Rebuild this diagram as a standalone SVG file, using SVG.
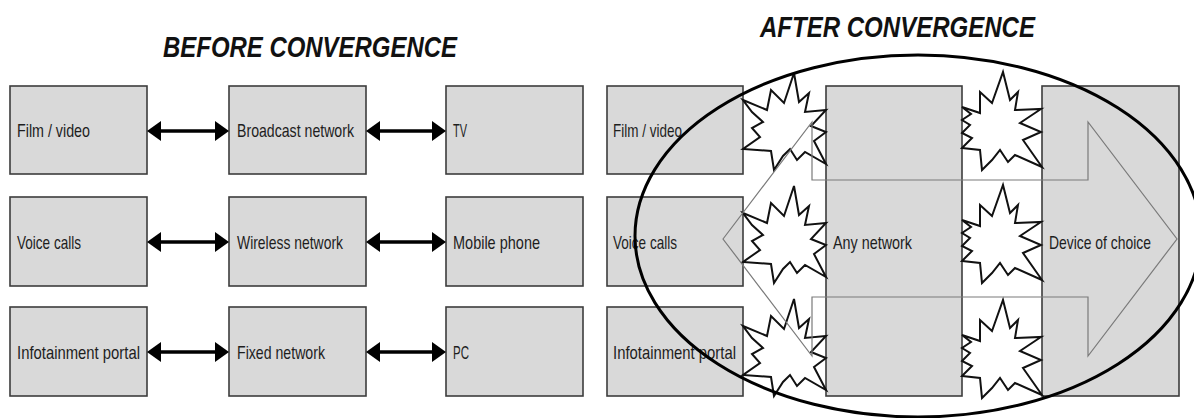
<svg xmlns="http://www.w3.org/2000/svg" width="1194" height="418" viewBox="0 0 1194 418">
  <style>
    .box { fill: #d9d9d9; stroke: #3c3c3c; stroke-width: 1.6; }
    .label { font-family: "Liberation Sans", Arial, sans-serif; font-size: 19px; fill: #1e1e1e; }
    .title { font-family: "Liberation Sans", Arial, sans-serif; font-size: 30px; font-weight: bold; font-style: italic; fill: #111; }
    .link { stroke: #000; stroke-width: 3.6; fill: none; }
    .burst { fill: #fff; stroke: #111; stroke-width: 2; stroke-linejoin: miter; }
    .flow { fill: none; stroke: #7a7a7a; stroke-width: 1.2; }
    .boundary { fill: none; stroke: #000; stroke-width: 3; }
  </style>
  <defs>
    <marker id="head" viewBox="0 0 14 20" refX="11" refY="10" markerWidth="14" markerHeight="20" markerUnits="userSpaceOnUse" orient="auto-start-reverse">
      <path d="M0,0 L14,10 L0,20 Z" fill="#000"/>
    </marker>
    <!-- starburst between a service box and the network column -->
    <polygon id="burstA" class="burst" points="0,40 24,50 28,30 41,43 51,13 56,42 66,33 62,52 83,50 68,66 83,72 71,81 83,104 62,92 54,100 47,89 40,96 31,110 28,91 0,89 17,77 9,68 20,62 9,52"/>
    <!-- starburst between the network column and the device column -->
    <polygon id="burstB" class="burst" points="0,47 18,53 18,32 30,43 41,12 48,40 56,32 53,50 79,49 58,63 79,72 61,80 80,107 53,95 46,102 38,90 30,100 20,110 18,90 0,88 10,78 0,73 8,65 0,60 9,54"/>
  </defs>

  <rect width="1194" height="418" fill="#fff"/>

  <!-- headings -->
  <text class="title" x="163" y="57" textLength="294" lengthAdjust="spacingAndGlyphs">BEFORE CONVERGENCE</text>
  <text class="title" x="760" y="37" textLength="275" lengthAdjust="spacingAndGlyphs">AFTER CONVERGENCE</text>

  <!-- separate value chains -->
  <g id="before-film">
    <rect class="box" x="10" y="86" width="137" height="88"/>
    <text class="label" x="17" y="137" textLength="73" lengthAdjust="spacingAndGlyphs">Film / video</text>
  </g>
  <g id="before-broadcast">
    <rect class="box" x="229" y="86" width="137" height="88"/>
    <text class="label" x="237" y="137" textLength="117" lengthAdjust="spacingAndGlyphs">Broadcast network</text>
  </g>
  <g id="before-tv">
    <rect class="box" x="446" y="86" width="137" height="88"/>
    <text class="label" x="453" y="137" textLength="14" lengthAdjust="spacingAndGlyphs">TV</text>
  </g>
  <g id="before-voice">
    <rect class="box" x="10" y="197" width="137" height="89"/>
    <text class="label" x="17" y="248.5" textLength="64" lengthAdjust="spacingAndGlyphs">Voice calls</text>
  </g>
  <g id="before-wireless">
    <rect class="box" x="229" y="197" width="137" height="89"/>
    <text class="label" x="237" y="248.5" textLength="106" lengthAdjust="spacingAndGlyphs">Wireless network</text>
  </g>
  <g id="before-mobile">
    <rect class="box" x="446" y="197" width="137" height="89"/>
    <text class="label" x="453" y="248.5" textLength="87" lengthAdjust="spacingAndGlyphs">Mobile phone</text>
  </g>
  <g id="before-infotainment">
    <rect class="box" x="10" y="307" width="137" height="89"/>
    <text class="label" x="17" y="358.5" textLength="123" lengthAdjust="spacingAndGlyphs">Infotainment portal</text>
  </g>
  <g id="before-fixed">
    <rect class="box" x="229" y="307" width="137" height="89"/>
    <text class="label" x="237" y="358.5" textLength="88" lengthAdjust="spacingAndGlyphs">Fixed network</text>
  </g>
  <g id="before-pc">
    <rect class="box" x="446" y="307" width="137" height="89"/>
    <text class="label" x="453" y="358.5" textLength="16" lengthAdjust="spacingAndGlyphs">PC</text>
  </g>

  <!-- converged layout -->
  <g id="after-film">
    <rect class="box" x="607" y="86" width="136" height="88"/>
    <text class="label" x="613" y="137" textLength="69" lengthAdjust="spacingAndGlyphs">Film / video</text>
  </g>
  <g id="after-voice">
    <rect class="box" x="607" y="197" width="136" height="89"/>
    <text class="label" x="613" y="248.5" textLength="64" lengthAdjust="spacingAndGlyphs">Voice calls</text>
  </g>
  <g id="after-infotainment">
    <rect class="box" x="607" y="307" width="136" height="89"/>
    <text class="label" x="613" y="358.5" textLength="123" lengthAdjust="spacingAndGlyphs">Infotainment portal</text>
  </g>
  <g id="any-network">
    <rect class="box" x="826" y="86" width="136" height="310"/>
    <text class="label" x="833" y="248.5" textLength="79" lengthAdjust="spacingAndGlyphs">Any network</text>
  </g>
  <g id="device-of-choice">
    <rect class="box" x="1042" y="86" width="137" height="310"/>
    <text class="label" x="1049" y="248.5" textLength="102" lengthAdjust="spacingAndGlyphs">Device of choice</text>
  </g>

  <!-- starbursts at each hand-off -->
  <g id="bursts">
    <use href="#burstA" x="743" y="60"/>
    <use href="#burstA" x="743" y="173"/>
    <use href="#burstA" x="743" y="286"/>
    <use href="#burstB" x="962" y="60"/>
    <use href="#burstB" x="962" y="173"/>
    <use href="#burstB" x="962" y="288"/>
  </g>

  <g id="connectors">
    <line class="link" x1="150" y1="131" x2="226" y2="131" marker-start="url(#head)" marker-end="url(#head)"/>
    <line class="link" x1="369" y1="131" x2="443" y2="131" marker-start="url(#head)" marker-end="url(#head)"/>
    <line class="link" x1="150" y1="242" x2="226" y2="242" marker-start="url(#head)" marker-end="url(#head)"/>
    <line class="link" x1="369" y1="242" x2="443" y2="242" marker-start="url(#head)" marker-end="url(#head)"/>
    <line class="link" x1="150" y1="352" x2="226" y2="352" marker-start="url(#head)" marker-end="url(#head)"/>
    <line class="link" x1="369" y1="352" x2="443" y2="352" marker-start="url(#head)" marker-end="url(#head)"/>
    <!-- two-way flow through the converged stack -->
    <polygon class="flow" points="723,239 812,122 812,180 1088,180 1088,122 1177,239 1088,356 1088,297 812,297 812,356"/>
  </g>

  <g id="convergence-boundary">
    <ellipse class="boundary" cx="918" cy="236" rx="283" ry="181"/>
  </g>
</svg>
